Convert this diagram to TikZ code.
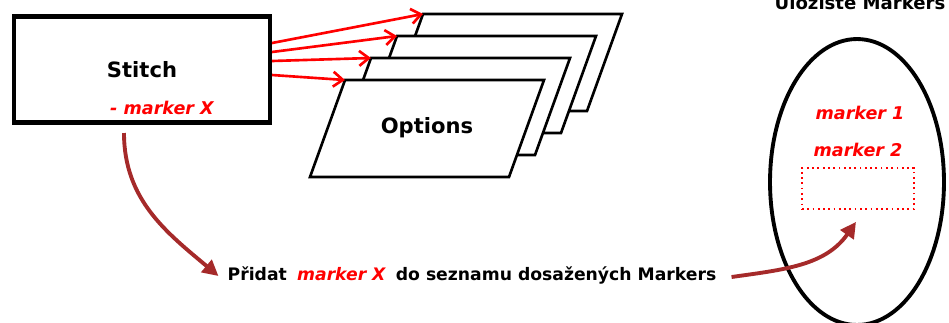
\documentclass[tikz,border=0pt]{standalone}
\usepackage{fontspec}
\setmainfont{DejaVu Sans}
\usetikzlibrary{arrows.meta, positioning, shapes.geometric, calc}
\definecolor{flowbrown}{HTML}{A52A2A}
\def\optdx{26}
\def\optdy{-22}

\begin{document}
\begin{tikzpicture}[x=0.02cm, y=-0.02cm, font=\bfseries\fontsize{9.8}{12}\selectfont]
    \tikzstyle{box}=[draw=black, line width=2.3pt, rectangle, minimum width=5.12cm, minimum height=2.12cm, inner sep=0pt]
    \tikzstyle{card}=[draw=black, line width=1.5pt, fill=white, line join=miter]
    \tikzstyle{big}=[font=\bfseries\fontsize{12}{14}\selectfont]
    \tikzstyle{markertext}=[text=red, font=\bfseries\itshape\fontsize{10}{12}\selectfont]
    \tikzstyle{pick}=[red, line width=1.5pt, -{Straight Barb[length=5.5pt, width=8.5pt]}]
    \tikzstyle{flow}=[flowbrown, line width=2.2pt, -{Triangle[length=9pt, width=9pt]}]

    \useasboundingbox (0,0) rectangle (949,322);

    % the stitch and its marker
    \node[box, big] (stitch) at (142,69.5) {Stitch};
    \node[markertext] (stitch-mark) at (162,108) {- marker X};

    % stack of options, back to front
    \foreach \i in {3,2,1,0}{
        \coordinate (O-\i) at (345+\i*\optdx, 80+\i*\optdy);
        \draw[card] (O-\i) -- ++(199,0) -- ++(-35,97) -- ++(-199,0) -- cycle;
    }
    \node[big] (options) at (427,128) {Options};

    \foreach \i/\dy in {0/5.5,1/-8.5,2/-17.5,3/-26.5}
        \draw[pick] ($(stitch.east)+(0,\dy)$) -- (O-\i);

    % the store of markers
    \node[ellipse, draw, line width=2.2pt, minimum width=3.48cm, minimum height=5.72cm, inner sep=0pt] (store) at (857,182) {};
    \node[anchor=base, font=\bfseries\fontsize{10.3}{12}\selectfont] (store-title) at (860,9) {Úložiště Markers};
    \node[markertext] (M-1) at (860,113) {marker 1};
    \node[markertext] (M-2) at (858,150) {marker 2};
    \node[draw=red, dotted, line width=1pt, minimum width=2.24cm, minimum height=0.82cm] (slot) at (858,188.5) {};

    \node (add) at (472,275) {Přidat\hspace{0.6em}\textcolor{red}{\itshape marker X}\hspace{0.6em}do seznamu dosažených Markers};

    \coordinate (drop) at (124,133);
    \draw[flow] (drop) to[out=-90, in=140] ($(add.west)+(-3,1)$);
    \draw[flow] ($(add.east)+(9,2)$) to[out=8, in=-125] ($(slot.south)+(-2,12)$);
\end{tikzpicture}
\end{document}
